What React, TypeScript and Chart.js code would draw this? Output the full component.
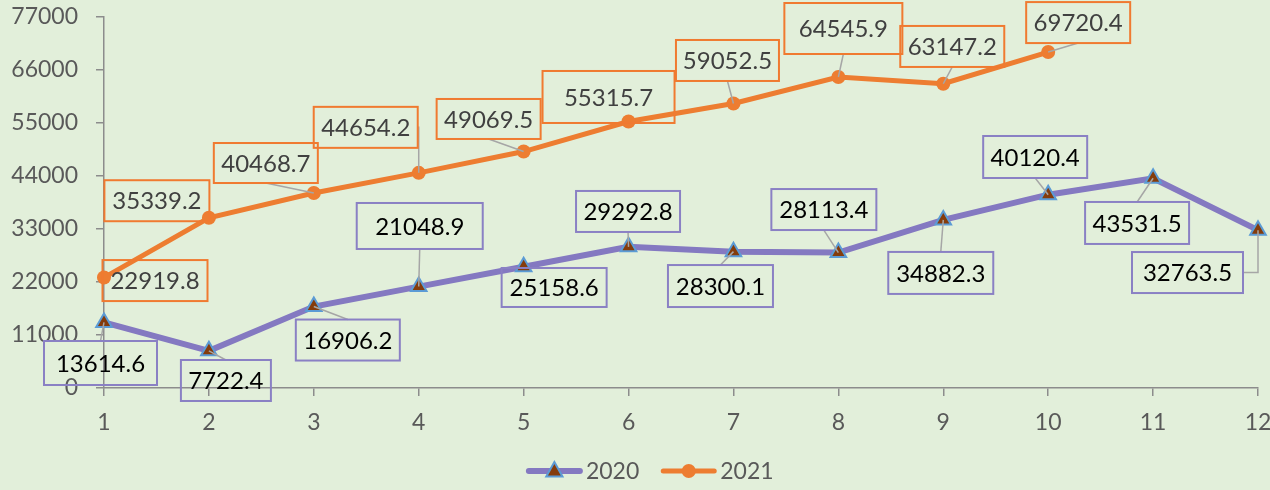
import React, { useEffect, useRef } from "react";
import { Chart, registerables } from "chart.js";

Chart.register(...registerables);

const categories = ["1", "2", "3", "4", "5", "6", "7", "8", "9", "10", "11", "12"];
const series2020 = [13614.6, 7722.4, 16906.2, 21048.9, 25158.6, 29292.8, 28300.1, 28113.4, 34882.3, 40120.4, 43531.5, 32763.5];
const series2021 = [22919.8, 35339.2, 40468.7, 44654.2, 49069.5, 55315.7, 59052.5, 64545.9, 63147.2, 69720.4];
const seriesNames = ["2020", "2021"];
const yMin = 0;
const yMax = 77000;
const yStep = 11000;

// label box layout: [dx, dy, width, height] relative to each point (pixels)
const labelLayout2020 = [
  [-3.5, 40.6, 113, 44], [17, 29.7, 90, 41], [34, 33.5, 104, 41], [1, -60.6, 126, 46],
  [30.5, 20.7, 105, 39], [-0.5, -35.4, 104, 41], [-13, 34.4, 105, 42], [-14.5, -43, 105, 41],
  [-2.5, 53, 105, 42], [-13, -37.7, 104, 42], [-16, 44.7, 104, 42], [-70.5, 42.4, 111, 41],
];
const labelLayout2021 = [
  [51, 3, 105, 41], [-52, -17, 105, 41], [-48, -30, 104, 40], [-53, -45.5, 104, 41],
  [-35, -32.6, 104, 40], [-20, -24.5, 132, 52], [-6, -43, 103, 41], [5, -48.5, 118, 51],
  [9, -37.3, 104, 41], [30, -29.5, 104, 41],
];

const BG = "#e2efda";
const PURPLE = "#8479c1";
const ORANGE = "#ed7d31";
const TRI_FILL = "#843c0c";
const TRI_BORDER = "#5b9bd5";
const AXIS = "#8c8c8c";
const TEXT = "#595959";
const FONT = "Lato, 'Open Sans', sans-serif";

const labelPlugin = {
  id: "boxLabels",
  afterDatasetsDraw(chart: any) {
    const ctx = chart.ctx;
    const layouts = [labelLayout2020, labelLayout2021];
    const borderColors = ["#8a80c4", "#f07a30"];
    const textColors = ["#000000", "#404040"];
    ctx.save();
    chart.data.datasets.forEach((ds: any, i: number) => {
      const meta = chart.getDatasetMeta(i);
      meta.data.forEach((el: any, j: number) => {
        const lay = layouts[i][j];
        if (!lay) return;
        const px = el.x, py = el.y;
        const cx = px + lay[0], cy = py + lay[1];
        const w = lay[2], h = lay[3];
        const l = cx - w / 2, r = cx + w / 2, t = cy - h / 2, b = cy + h / 2;
        const qx = Math.min(Math.max(px, l), r);
        const qy = Math.min(Math.max(py, t), b);
        const dist = Math.hypot(px - qx, py - qy);
        if (dist > 7) {
          ctx.beginPath();
          ctx.strokeStyle = "#a6a6a6";
          ctx.lineWidth = 1.5;
          if (px > r || px < l) {
            const ax = px > r ? r : l;
            ctx.moveTo(ax, cy);
            ctx.lineTo(px, cy);
            ctx.lineTo(px, py);
          } else {
            const ay = py > b ? b : t;
            ctx.moveTo(cx, ay);
            ctx.lineTo(px, py);
          }
          ctx.stroke();
        }
        ctx.lineWidth = 2;
        ctx.strokeStyle = borderColors[i];
        ctx.strokeRect(l, t, w, h);
        ctx.fillStyle = textColors[i];
        ctx.font = `24px ${FONT}`;
        ctx.textAlign = "center";
        ctx.textBaseline = "middle";
        ctx.fillText(ds.data[j].toFixed(1), cx, cy + 1);
      });
    });
    ctx.restore();
  },
  afterDraw(chart: any) {
    const ctx = chart.ctx;
    ctx.save();
    ctx.font = `23px ${FONT}`;
    const lineW = 55;
    const gapText = 4;
    const gapItem = 22;
    const widths = chart.data.datasets.map((ds: any) => lineW + gapText + ctx.measureText(ds.label).width);
    const total = widths.reduce((a: number, b: number) => a + b, 0) + gapItem * (widths.length - 1);
    let x = chart.width * 0.512 - total / 2;
    const y = 471;
    chart.data.datasets.forEach((ds: any, i: number) => {
      ctx.beginPath();
      ctx.strokeStyle = ds.borderColor;
      ctx.lineWidth = ds.borderWidth;
      ctx.lineCap = "round";
      ctx.moveTo(x + 2, y);
      ctx.lineTo(x + lineW - 2, y);
      ctx.stroke();
      const mx = x + lineW / 2;
      if (ds.pointStyle === "triangle") {
        const r = 9;
        ctx.beginPath();
        ctx.moveTo(mx, y - r);
        ctx.lineTo(mx + r * 0.9, y + r * 0.62);
        ctx.lineTo(mx - r * 0.9, y + r * 0.62);
        ctx.closePath();
        ctx.fillStyle = ds.pointBackgroundColor;
        ctx.fill();
        ctx.lineWidth = 2;
        ctx.strokeStyle = ds.pointBorderColor;
        ctx.stroke();
      } else {
        ctx.beginPath();
        ctx.arc(mx, y, ds.pointRadius, 0, Math.PI * 2);
        ctx.fillStyle = ds.pointBackgroundColor;
        ctx.fill();
      }
      ctx.fillStyle = TEXT;
      ctx.textAlign = "left";
      ctx.textBaseline = "middle";
      ctx.fillText(ds.label, x + lineW + gapText, y + 1);
      x += widths[i] + gapItem;
    });
    ctx.restore();
  },
};

export default function App() {
  const ref = useRef<HTMLCanvasElement | null>(null);
  useEffect(() => {
    document.body.style.margin = "0";
    const canvas = ref.current;
    if (!canvas) return;
    const chart = new Chart(canvas, {
      type: "line",
      data: {
        labels: categories,
        datasets: [
          {
            label: seriesNames[0],
            data: series2020,
            borderColor: PURPLE,
            borderWidth: 6,
            pointStyle: "triangle",
            pointRadius: 9,
            pointBackgroundColor: TRI_FILL,
            pointBorderColor: TRI_BORDER,
            pointBorderWidth: 2,
            tension: 0,
          } as any,
          {
            label: seriesNames[1],
            data: series2021,
            borderColor: ORANGE,
            borderWidth: 5,
            pointStyle: "circle",
            pointRadius: 7,
            pointBackgroundColor: ORANGE,
            pointBorderColor: ORANGE,
            pointBorderWidth: 0,
            tension: 0,
          } as any,
        ],
      },
      options: {
        responsive: false,
        animation: false,
        devicePixelRatio: 1,
        layout: { padding: { top: 17, right: 12, left: 0, bottom: 0 } },
        plugins: { legend: { display: false }, tooltip: { enabled: false } },
        scales: {
          x: {
            type: "category",
            offset: false,
            grid: { display: true, drawOnChartArea: false, drawTicks: true, tickLength: 8, color: AXIS, lineWidth: 1.5 },
            border: { display: true, color: AXIS, width: 1.5 },
            ticks: { color: TEXT, font: { family: FONT, size: 23 }, padding: 13, maxRotation: 0, autoSkip: false },
            afterFit: (s: any) => {
              s.height = 102;
              s.paddingLeft = 0;
              s.paddingRight = 0;
            },
          },
          y: {
            min: yMin,
            max: yMax,
            grid: { display: true, drawOnChartArea: false, drawTicks: true, tickLength: 8, color: AXIS, lineWidth: 1.5 },
            border: { display: true, color: AXIS, width: 1.5 },
            ticks: {
              stepSize: yStep,
              color: TEXT,
              font: { family: FONT, size: 23 },
              padding: 18,
              callback: (v: any) => String(v),
            },
            afterFit: (s: any) => {
              s.width = 104;
              s.paddingTop = 0;
              s.paddingBottom = 0;
            },
          },
        },
      },
      plugins: [labelPlugin],
    } as any);
    return () => chart.destroy();
  }, []);
  return (
    <canvas
      ref={ref}
      width={1270}
      height={490}
      style={{ display: "block", width: 1270, height: 490, background: BG }}
    />
  );
}
